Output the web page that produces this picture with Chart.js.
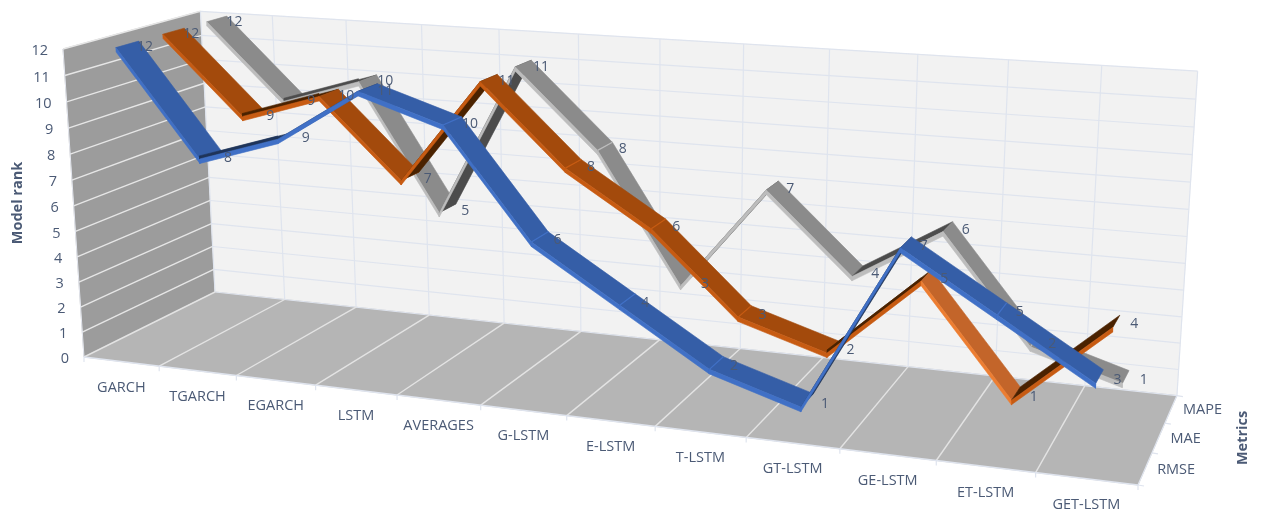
<!DOCTYPE html>
<html>
<head>
<meta charset="utf-8">
<title>Model rank by metric</title>
<script src="https://cdn.jsdelivr.net/npm/chart.js@4"></script>
<style>
  html, body { margin: 0; padding: 0; background: #ffffff; }
  canvas { display: block; }
</style>
</head>
<body>
<canvas id="rankChart" width="1262" height="513"></canvas>
<script>
var categories = ['GARCH', 'TGARCH', 'EGARCH', 'LSTM', 'AVERAGES', 'G-LSTM', 'E-LSTM', 'T-LSTM', 'GT-LSTM', 'GE-LSTM', 'ET-LSTM', 'GET-LSTM'];
var metrics = ['RMSE', 'MAE', 'MAPE'];
var rankTicks = [0, 1, 2, 3, 4, 5, 6, 7, 8, 9, 10, 11, 12];
var rmseRanks = [12, 8, 9, 11, 10, 6, 4, 2, 1, 7, 5, 3];
var maeRanks = [12, 9, 10, 7, 11, 8, 6, 3, 2, 5, 1, 4];
var mapeRanks = [12, 9, 10, 5, 11, 8, 3, 7, 4, 6, 2, 1];

var rankMax = 12;
var textColor = '#4b5a75';
var fontName = '"Open Sans", sans-serif';

// perspective box: corners of the plot in pixels, plus the foreshortening along each axis
var origin = [84, 357];
var endCat = [1138, 485];
var endRank = [63, 49];
var endDepth = [215, 292];
var skewCat = -0.155, skewRank = -0.0358, skewDepth = 0.102;

function project(cat, rank, depth) {
  var u = cat / categories.length, v = rank / rankMax, w = depth / metrics.length;
  var d = 1 + skewCat * u + skewRank * v + skewDepth * w;
  function axis(i) {
    return origin[i]
      + u * ((1 + skewCat) * endCat[i] - origin[i])
      + v * ((1 + skewRank) * endRank[i] - origin[i])
      + w * ((1 + skewDepth) * endDepth[i] - origin[i]);
  }
  return { x: axis(0) / d, y: axis(1) / d };
}

var datasets = [];

function addShape(points, color) {
  datasets.push({
    data: points.concat([points[0]]),
    fill: 'shape',
    backgroundColor: color,
    borderColor: color,
    borderWidth: 0.6
  });
}

function addLine(points, color, width) {
  datasets.push({ data: points, fill: false, borderColor: color, borderWidth: width });
}

// walls and floor
var nCat = categories.length, nDepth = metrics.length;
addShape([project(0, 0, 0), project(0, 0, nDepth), project(0, rankMax, nDepth), project(0, rankMax, 0)], '#9c9c9c');
addShape([project(0, 0, nDepth), project(nCat, 0, nDepth), project(nCat, rankMax, nDepth), project(0, rankMax, nDepth)], '#f2f2f2');
addShape([project(0, 0, 0), project(nCat, 0, 0), project(nCat, 0, nDepth), project(0, 0, nDepth)], '#b5b5b5');

rankTicks.forEach(function (r) {
  if (r > 0) {
    addLine([project(0, r, 0), project(0, r, nDepth)], '#e6e6e6', 1.4);
  }
  addLine([project(0, r, nDepth), project(nCat, r, nDepth)], '#dfe4ee', 1.2);
});
for (var c = 0; c <= nCat; c++) {
  addLine([project(c, 0, nDepth), project(c, rankMax, nDepth)], '#dfe4ee', 1.2);
  if (c < nCat) {
    addLine([project(c, 0, 0), project(c, 0, nDepth)], '#e3e3e3', 1.4);
  }
  // little tick under the front edge
  var tickTop = project(c, 0, 0);
  addLine([tickTop, { x: tickTop.x, y: tickTop.y + 5 }], '#dfe4ee', 1.2);
}
addLine([project(0, 0, 0), project(nCat, 0, 0)], '#dfe4ee', 1.4);
addLine([project(0, 0, 0), project(0, rankMax, 0)], '#e4e7ef', 1);
addLine([project(nCat, 0, 0), project(nCat, 0, nDepth)], '#dfe4ee', 1.2);
for (var m = 0; m <= nDepth; m++) {
  var edge = project(nCat, 0, m);
  addLine([edge, { x: edge.x + 6, y: edge.y + 1 }], '#dfe4ee', 1.2);
}

// ribbons, back series first so the front one ends up on top
var ribbonDepth = 0.48;
var ribbonEdge = 0.17;

// how far the back edge of a segment sits from its front edge, in pixels on screen;
// negative when the back edge lands below the front edge
function backEdgeOffset(p0, p1, p2) {
  var dx = p1.x - p0.x, dy = p1.y - p0.y;
  return -(dx * (p2.y - p1.y) - dy * (p2.x - p1.x)) / Math.sqrt(dx * dx + dy * dy);
}

function addRibbon(values, depthIndex, colors) {
  var front = depthIndex + 0.29, back = front + ribbonDepth;
  for (var i = 0; i < values.length - 1; i++) {
    var a = values[i], b = values[i + 1];
    var rising = b > a;
    var lit = colors.litSegment === i;
    var top = rising ? colors.under : (lit ? colors.litTop : colors.top);
    var side = lit ? colors.litEdge : colors.edge;
    var f0 = project(i + 0.5, a, front), f1 = project(i + 1.5, b, front);
    var b1 = project(i + 1.5, b, back), b0 = project(i + 0.5, a, back);
    addShape([f0, f1, b1, b0], top);
    // a rising segment seen almost edge-on still shows a dark sliver above its lit side
    var offset = backEdgeOffset(f0, f1, b1);
    if (rising && offset >= 0 && offset < 3) {
      addShape([f0, f1, project(i + 1.5, b + ribbonEdge * 0.7, front), project(i + 0.5, a + ribbonEdge * 0.7, front)], colors.under);
    }
    addShape([f0, f1, project(i + 1.5, b - ribbonEdge, front), project(i + 0.5, a - ribbonEdge, front)], side);
    // seam where two falling segments meet
    if (i > 0 && a < values[i - 1] && !rising) {
      addLine([f0, b0], side, 1.2);
    }
  }
}

addRibbon(mapeRanks, 2, { top: '#8b8b8b', edge: '#bdbdbd', under: '#4c4c4c' });
addRibbon(maeRanks, 1, { top: '#a34a0c', edge: '#c75b12', under: '#4a2200', litSegment: 9, litTop: '#c3652a', litEdge: '#ed7d31' });
addRibbon(rmseRanks, 0, { top: '#355ea7', edge: '#4070c6', under: '#1f3459' });

// Chart.js paints the first dataset last, so flip the build order
datasets.reverse();

var textPlugin = {
  id: 'rankText',
  afterDatasetsDraw: function (chart) {
    var ctx = chart.ctx;
    var sx = chart.scales.x, sy = chart.scales.y;
    function put(text, p, dx, dy, align) {
      ctx.textAlign = align;
      ctx.fillText(text, sx.getPixelForValue(p.x) + dx, sy.getPixelForValue(p.y) + dy);
    }
    ctx.save();
    ctx.fillStyle = textColor;
    ctx.textBaseline = 'middle';
    ctx.font = '14.5px ' + fontName;

    rankTicks.forEach(function (r) {
      put(String(r), project(0, r, 0), -15, 2, 'right');
    });
    categories.forEach(function (name, i) {
      put(name, project(i + 0.5, 0, 0), 0, 26, 'center');
    });
    metrics.forEach(function (name, i) {
      put(name, project(nCat, 0, i + 0.5), 12, 1, 'left');
    });

    // value labels sit to the right of each ribbon
    ctx.font = '14px ' + fontName;
    [rmseRanks, maeRanks, mapeRanks].forEach(function (values, d) {
      values.forEach(function (value, i) {
        put(String(value), project(i + 0.5, value, d + 0.52), 18, 3, 'center');
      });
    });

    ctx.font = 'bold 14.5px ' + fontName;
    ctx.textAlign = 'center';
    ctx.save();
    ctx.translate(18, 203);
    ctx.rotate(-Math.PI / 2);
    ctx.fillText('Model rank', 0, 0);
    ctx.restore();
    ctx.save();
    ctx.translate(1243, 438);
    ctx.rotate(-Math.PI / 2);
    ctx.fillText('Metrics', 0, 0);
    ctx.restore();
    ctx.restore();
  }
};

new Chart(document.getElementById('rankChart'), {
  type: 'scatter',
  data: { datasets: datasets },
  plugins: [textPlugin],
  options: {
    responsive: false,
    animation: false,
    layout: { padding: 0 },
    elements: { point: { radius: 0, hoverRadius: 0 }, line: { tension: 0 } },
    datasets: { scatter: { showLine: true } },
    plugins: { legend: { display: false }, tooltip: { enabled: false } },
    events: [],
    scales: {
      x: { type: 'linear', min: 0, max: 1262, display: false },
      y: { type: 'linear', min: 0, max: 513, reverse: true, display: false }
    }
  }
});
</script>
</body>
</html>
